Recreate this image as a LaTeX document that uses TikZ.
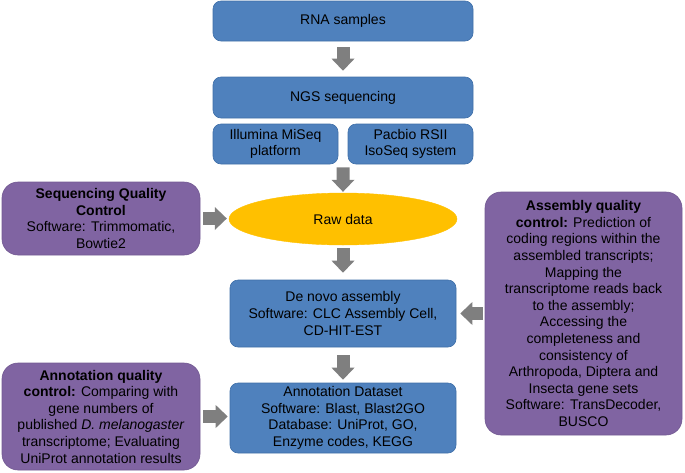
\documentclass[tikz,border=0pt]{standalone}
\usepackage{fontspec}
\setmainfont{Liberation Sans}
\usetikzlibrary{arrows.meta,shapes.geometric,calc}
\definecolor{bluefill}{HTML}{4F81BD}
\definecolor{blueedge}{HTML}{3F6FA8}
\definecolor{purplefill}{HTML}{8064A2}
\definecolor{yellowfill}{HTML}{FFC000}
\definecolor{arrowgray}{HTML}{7F7F7F}
\tikzset{
  basebox/.style={align=center, inner sep=0pt, font=\fontsize{14}{16.6}\selectfont, text=black},
  bluebox/.style={basebox, rectangle, rounded corners=8pt, fill=bluefill, draw=blueedge, line width=0.6pt},
  purplebox/.style={basebox, rectangle, rounded corners=16pt, fill=purplefill, draw=purplefill!90!black, line width=0.6pt},
  rawbox/.style={basebox, ellipse, fill=yellowfill, draw=yellowfill},
  bigarr/.style={draw=arrowgray, line width=13pt, -{Triangle[width=23pt,length=12pt,line width=0pt]}},
}
\begin{document}
\begin{tikzpicture}[x=1pt,y=-1pt]
\useasboundingbox (0,0) rectangle (685,472);
% blue main flow
\node[bluebox, minimum width=260pt, minimum height=40pt] (rna) at (343,21) {RNA samples};
\node[bluebox, minimum width=260pt, minimum height=41pt] (ngs) at (343,97.5) {NGS sequencing};
\node[bluebox, minimum width=125pt, minimum height=40pt] (ill) at (275.5,144) {Illumina MiSeq\\platform};
\node[bluebox, minimum width=125pt, minimum height=40pt] (pac) at (410.5,144) {Pacbio RSII\\IsoSeq system};
\node[rawbox, minimum width=228pt, minimum height=52pt] (raw) at (343,219) {Raw data};
\node[bluebox, minimum width=226pt, minimum height=67pt] (denovo) at (343,313.5) {De novo assembly\\Software: CLC Assembly Cell,\\CD-HIT-EST};
\node[bluebox, minimum width=226pt, minimum height=70pt] (annot) at (343,418) {Annotation Dataset\\Software: Blast, Blast2GO\\Database: UniProt, GO,\\Enzyme codes, KEGG};
% purple QC boxes
\node[purplebox, minimum width=198pt, minimum height=73pt] (sqc) at (101,218.5) {\textbf{Sequencing Quality}\\\textbf{Control}\\Software: Trimmomatic,\\Bowtie2};
\node[purplebox, minimum width=198pt, minimum height=107pt] (aqc) at (101,416.5) {\textbf{Annotation quality}\\\textbf{control:} Comparing with\\gene numbers of\\published \textit{D. melanogaster}\\transcriptome; Evaluating\\UniProt annotation results};
\node[purplebox, minimum width=197pt, minimum height=243pt] (asmqc) at (583.5,313.5) {\textbf{Assembly quality}\\\textbf{control:} Prediction of\\coding regions within the\\assembled transcripts;\\Mapping the\\transcriptome reads back\\to the assembly;\\Accessing the\\completeness and\\consistency of\\Arthropoda, Diptera and\\Insecta gene sets\\Software: TransDecoder,\\BUSCO};
% connectors
\coordinate (gap) at ($(ill.south east)!0.5!(pac.south west)$);
\draw[bigarr, shorten <=6pt, shorten >=6pt] (rna) -- (ngs);
\draw[bigarr, shorten <=3pt, shorten >=1pt] (gap) -- (raw);
\draw[bigarr, shorten <=3pt, shorten >=7pt] (raw) -- (denovo);
\draw[bigarr, shorten <=8pt, shorten >=3pt] (denovo) -- (annot);
\draw[bigarr, shorten <=3pt, shorten >=2pt] (sqc.east) -- (sqc.east -| raw.west);
\draw[bigarr, shorten <=3pt, shorten >=2pt] (aqc.east) -- (aqc.east -| annot.west);
\draw[bigarr, shorten <=2pt, shorten >=4pt] (asmqc.west) -- (denovo.east);
\end{tikzpicture}
\end{document}
